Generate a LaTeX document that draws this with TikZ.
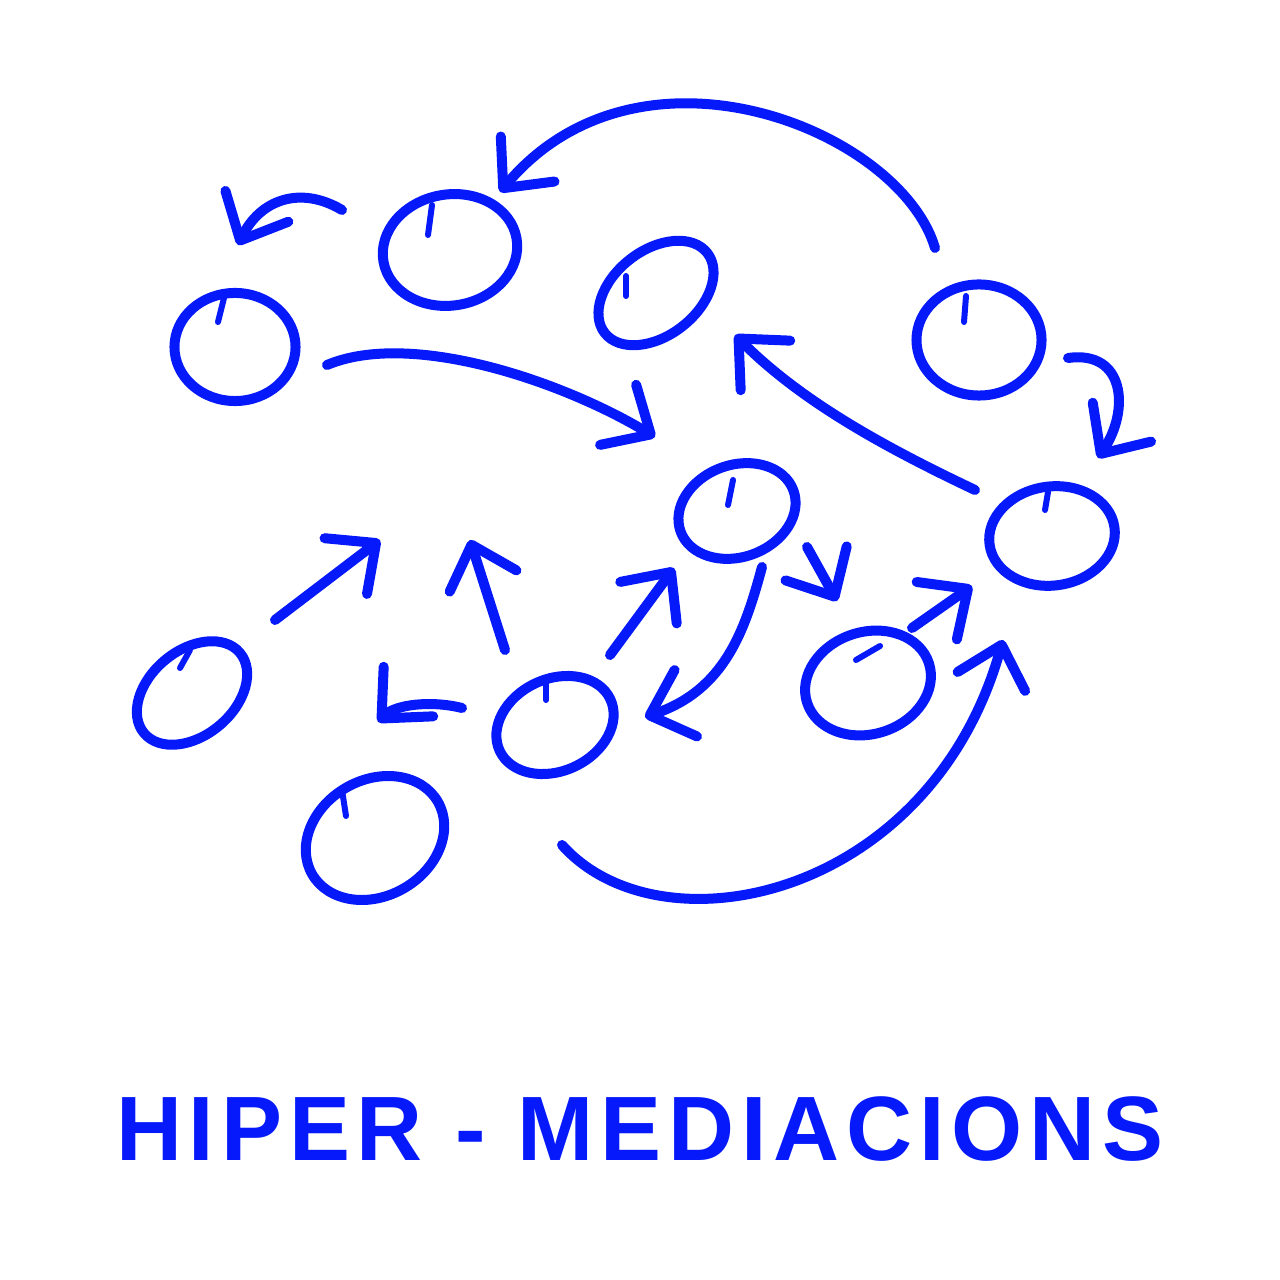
\documentclass[tikz,border=0pt]{standalone}
\usepackage{xcolor}
\usepackage{fontspec}
\newfontfamily\scrawl{Liberation Sans}[LetterSpace=7.5]
\usepackage{tikz}
\usetikzlibrary{positioning}
\usetikzlibrary{arrows.meta,shapes.geometric}
\definecolor{ink}{RGB}{5,25,250}

\begin{document}
\begin{tikzpicture}[x=0.01cm,y=-0.01cm,
		pen/.style={draw=ink,line width=0.1cm,line cap=round,line join=round},
		bubble/.style={ellipse,pen,inner sep=0pt},
		>={Straight Barb[length=3.8mm,width=7mm,round]}]
		\useasboundingbox (0,0) rectangle (1280,1280);
		
		\node[bubble,minimum width=1.21cm,minimum height=1.08cm] (m1) at (235,347) {};
		\node[bubble,minimum width=1.35cm,minimum height=1.11cm,rotate=10] (m2) at (450,250) {};
		\node[bubble,minimum width=1.30cm,minimum height=0.85cm,rotate=38] (m3) at (656,293) {};
		\node[bubble,minimum width=1.25cm,minimum height=1.11cm] (m4) at (979,340) {};
		\node[bubble,minimum width=1.20cm,minimum height=0.92cm,rotate=20] (m5) at (737,511) {};
		\node[bubble,minimum width=1.26cm,minimum height=0.99cm,rotate=8] (m6) at (1052,536) {};
		\node[bubble,minimum width=1.25cm,minimum height=0.85cm,rotate=40] (m7) at (192,693) {};
		\node[bubble,minimum width=1.22cm,minimum height=0.92cm,rotate=25] (m8) at (555,725) {};
		\node[bubble,minimum width=1.28cm,minimum height=1.02cm,rotate=18] (m9) at (868,683) {};
		\node[bubble,minimum width=1.45cm,minimum height=1.16cm,rotate=30] (m10) at (375,838) {};
		
		% pen start marks
		\foreach \x/\y/\dx/\dy in {224/298/-6/24, 432/205/-4/30, 626/276/0/20, 966/296/-2/26,
			733/480/-5/25, 1048/492/-3/18, 190/650/-10/18, 546/680/0/20, 880/646/-24/14, 342/790/4/26}
			\draw[pen,line width=0.06cm] (\x,\y) -- +(\dx,\dy);
		
		% free ends of the arrows
		\coordinate (a1) at (935,248); \coordinate (b1) at (500,192);
		\coordinate (a2) at (342,210); \coordinate (b2) at (238,245);
		\coordinate (a3) at (327,365); \coordinate (b3) at (655,437);
		\coordinate (a4) at (975,490); \coordinate (b4) at (735,335);
		\coordinate (a5) at (1068,358); \coordinate (b5) at (1098,458);
		\coordinate (a6) at (275,620); \coordinate (b6) at (380,540);
		\coordinate (a7) at (505,650); \coordinate (b7) at (470,540);
		\coordinate (a8) at (462,708); \coordinate (b8) at (378,722);
		\coordinate (a9) at (610,655); \coordinate (b9) at (674,568);
		\coordinate (a10) at (762,567); \coordinate (b10) at (645,717);
		\coordinate (a11) at (807,547); \coordinate (b11) at (837,601);
		\coordinate (a12) at (912,628); \coordinate (b12) at (972,586);
		\coordinate (a13) at (562,845); \coordinate (b13) at (1003,640);
		
		\draw[pen,->] (a1) .. controls (900,130) and (640,25) .. (b1);
		\draw[pen,->] (a2) .. controls (300,185) and (260,200) .. (b2);
		\draw[pen,->] (a3) .. controls (410,330) and (560,380) .. (b3);
		\draw[pen,->] (a4) .. controls (880,445) and (800,400) .. (b4);
		\draw[pen,->] (a5) .. controls (1125,350) and (1130,410) .. (b5);
		\draw[pen,->] (a6) -- (b6);
		\draw[pen,->] (a7) -- (b7);
		\draw[pen,->] (a8) .. controls (430,700) and (395,705) .. (b8);
		\draw[pen,->] (a9) -- (b9);
		\draw[pen,->] (a10) .. controls (745,630) and (725,690) .. (b10);
		\draw[pen,->] (a11) -- (b11);
		\draw[pen,->] (a12) -- (b12);
		\draw[pen,->] (a13) .. controls (660,955) and (930,900) .. (b13);
		
		\node[text=ink,anchor=base] (title) at (640,1160) {\scrawl\bfseries\fontsize{26}{30}\selectfont HIPER - MEDIACIONS};
\end{tikzpicture}
\end{document}
